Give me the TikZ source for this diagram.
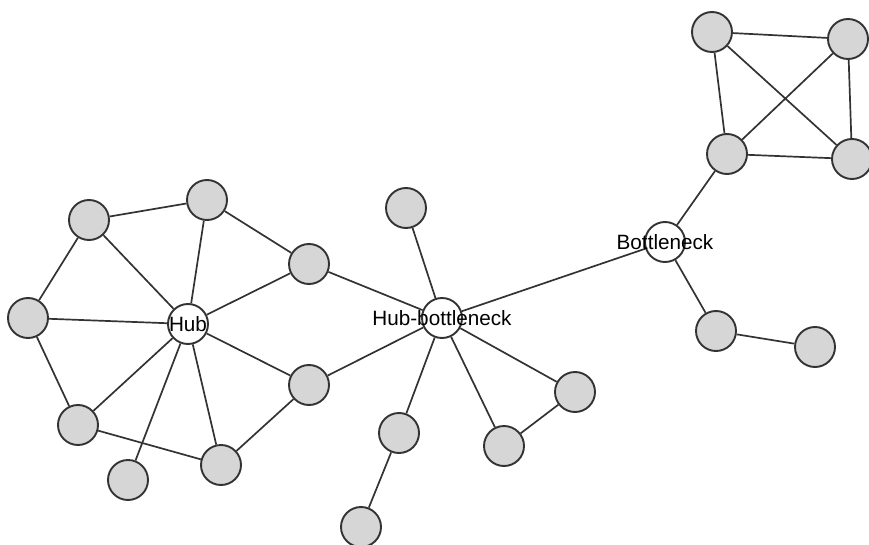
\documentclass[tikz,border=0pt]{standalone}
\usepackage{fontspec}
\setmainfont{Liberation Sans}
\usetikzlibrary{backgrounds}
\definecolor{ink}{HTML}{333333}
\definecolor{leaf}{HTML}{D6D6D6}

\begin{document}
\begin{tikzpicture}[x=1pt, y=-1pt, font=\fontsize{20.7}{24}\selectfont,
  vert/.style={circle, draw=ink, line width=1.9pt, fill=leaf, minimum size=40pt, inner sep=0pt},
  key/.style={vert, fill=white},
  link/.style={draw=ink, line width=1.7pt}]
  \useasboundingbox (0,0) rectangle (869,545);
  % hub and its ring
  \node[key, label={center:Hub}] (hub) at (188,324) {};
  \node[vert] (a1) at (89,220) {};
  \node[vert] (a2) at (207,200) {};
  \node[vert] (a3) at (309,264) {};
  \node[vert] (a4) at (28,318) {};
  \node[vert] (a5) at (309,385) {};
  \node[vert] (a6) at (78,425) {};
  \node[vert] (a7) at (128,480) {};
  \node[vert] (a8) at (221,465) {};
  % hub-bottleneck
  \node[key, label={center:Hub-bottleneck}] (hb) at (442,318) {};
  \node[vert] (b1) at (406,208) {};
  \node[vert] (b2) at (399,433) {};
  \node[vert] (b3) at (361,527) {};
  \node[vert] (b4) at (504,446) {};
  \node[vert] (b5) at (575,392) {};
  % bottleneck and the clique
  \node[key, label={center:Bottleneck}] (bn) at (665,242) {};
  \node[vert] (c1) at (712,32) {};
  \node[vert] (c2) at (848,39) {};
  \node[vert] (c3) at (727,154) {};
  \node[vert] (c4) at (852,159) {};
  \node[vert] (c5) at (716,331) {};
  \node[vert] (c6) at (815,347) {};
  \begin{pgfonlayer}{background}
    \path[link] (hub) -- (a1) (hub) -- (a2) (hub) -- (a3) (hub) -- (a4)
      (hub) -- (a5) (hub) -- (a6) (hub) -- (a7) (hub) -- (a8);
    \path[link] (a4) -- (a1) -- (a2) -- (a3) (a4) -- (a6) -- (a8) -- (a5);
    \path[link] (a3) -- (hb) (a5) -- (hb);
    \path[link] (hb) -- (b1) (hb) -- (b2) -- (b3) (hb) -- (b4) -- (b5) -- (hb);
    \path[link] (hb) -- (bn) (bn) -- (c3) (bn) -- (c5) -- (c6);
    \path[link] (c1) -- (c2) -- (c4) -- (c3) -- (c1) -- (c4) (c2) -- (c3);
  \end{pgfonlayer}
\end{tikzpicture}
\end{document}
